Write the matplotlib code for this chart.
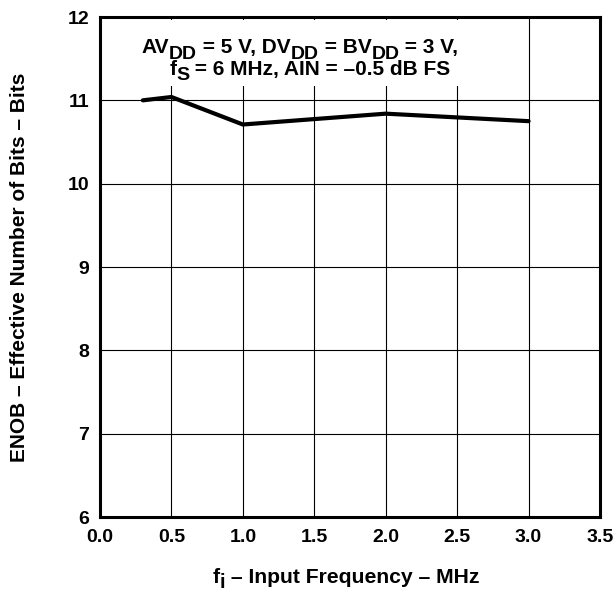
import matplotlib
matplotlib.use("Agg")
import matplotlib.pyplot as plt
from matplotlib.patches import Rectangle
from matplotlib.transforms import IdentityTransform

# data
freq_mhz = [0.3, 0.5, 1.0, 2.0, 3.0]
enob_bits = [11.0, 11.04, 10.71, 10.84, 10.75]

x_ticks = [0.0, 0.5, 1.0, 1.5, 2.0, 2.5, 3.0, 3.5]
x_tick_labels = ["0.0", "0.5", "1.0", "1.5", "2.0", "2.5", "3.0", "3.5"]
y_ticks = [6, 7, 8, 9, 10, 11, 12]

# text pieces, (string, is_subscript)
note_line1 = [("AV", 0), ("DD", 1), (" = 5 V, DV", 0), ("DD", 1), (" = BV", 0), ("DD", 1), (" = 3 V,", 0)]
note_line2 = [("f", 0), ("S", 1), (" = 6 MHz, AIN = \u20130.5 dB FS", 0)]
xlabel_parts = [("f", 0), ("i", 1), (" \u2013 Input Frequency \u2013 MHz", 0)]
ylabel_text = "ENOB \u2013 Effective Number of Bits \u2013 Bits"

plt.rcParams['font.family'] = ['Liberation Sans', 'DejaVu Sans']
plt.rcParams['font.weight'] = 'bold'

W, H = 616, 593
fig = plt.figure(figsize=(W / 100, H / 100), dpi=100)
ax = fig.add_axes([100 / W, 1 - 517 / H, 500 / W, 500 / H])

ax.set_xlim(0, 3.5)
ax.set_ylim(6, 12)
ax.set_xticks(x_ticks)
ax.set_xticklabels(x_tick_labels)
ax.set_yticks(y_ticks)
ax.tick_params(length=0, labelsize=14)
ax.tick_params(axis="x", pad=9)
ax.tick_params(axis="y", pad=8)
ax.grid(True, color="black", linewidth=0.8)
ax.set_axisbelow(True)
for s in ax.spines.values():
    s.set_linewidth(2.2)

# white patch behind the note interrupts the grid
ax.add_patch(Rectangle((0.18, 11.17), 2.5, 0.79, facecolor="white", edgecolor="none", zorder=1))

ax.plot(freq_mhz, enob_bits, color="black", linewidth=3, solid_capstyle="round", zorder=3)

renderer = fig.canvas.get_renderer()


def draw_parts(parts, cx, base_y, size, drop, sub_size=None):
    # lay out text pieces side by side, subscripts nearly full size but dropped
    items = []
    total = 0
    for txt, sub in parts:
        fs = sub_size if (sub and sub_size) else size
        t = fig.text(0, 0, txt, fontsize=fs, fontweight="bold", ha="left", va="baseline",
                     transform=IdentityTransform(), zorder=4)
        w = t.get_window_extent(renderer).width
        items.append((t, w, sub))
        total += w
    x = cx - total / 2
    for t, w, sub in items:
        t.set_position((x, base_y - sub * drop))
        x += w


draw_parts(note_line1, 300, H - 53, 15, 6, 14)
draw_parts(note_line2, 310, H - 75, 15, 5, 14)
draw_parts(xlabel_parts, 346, H - 583, 15.2, 5, 14.5)

fig.text(20, H - 267, ylabel_text, fontsize=15, fontweight="bold", rotation=90,
         ha="center", va="center", transform=IdentityTransform())

fig.savefig("out.png", dpi=100)
